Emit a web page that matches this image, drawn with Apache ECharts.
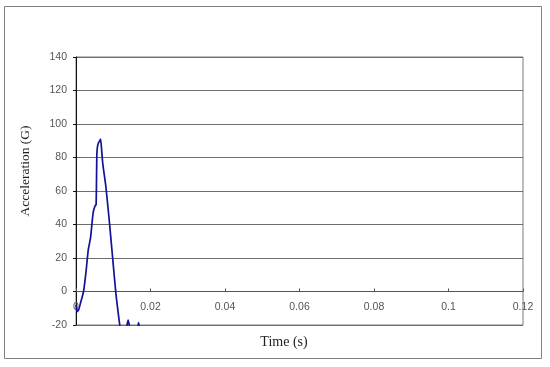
<!DOCTYPE html>
<html>
<head>
<meta charset="utf-8">
<script src="https://cdn.jsdelivr.net/npm/echarts@6/dist/echarts.min.js"></script>
<style>
  html, body { margin: 0; padding: 0; background: #fff; }
  #chart { width: 550px; height: 367px; }
</style>
</head>
<body>
<div id="chart"></div>
<script>
// time (s) and acceleration (G)
const timeS = [0, 0.0003, 0.0007, 0.0012, 0.0017, 0.0021, 0.0027, 0.0033, 0.0039, 0.0046, 0.0051, 0.0054,
  0.0056, 0.0058, 0.0061, 0.0064, 0.0066, 0.0069, 0.0072, 0.0080, 0.0089, 0.0098, 0.0107, 0.0118,
  0.0125, 0.0132, 0.0137, 0.0140, 0.0143, 0.0150, 0.0160, 0.0166, 0.0168, 0.0170, 0.0176];
const accelG = [-8, -12, -11, -7, -3, 1, 12, 25, 32, 47, 51, 52,
  82, 87, 89, 90, 91, 84, 76, 63, 43, 21, -1, -21,
  -32, -28, -20, -17, -20, -28, -26, -21, -18.5, -21, -27];
const xTicks = [0, 0.12, 0.02];
const yTicks = [-20, 140, 20];
const xTitle = 'Time (s)';
const yTitle = 'Acceleration (G)';

const chart = echarts.init(document.getElementById('chart'));
const serif = '"Liberation Serif", "DejaVu Serif", serif';
const sans = '"Liberation Sans", "DejaVu Sans", sans-serif';

chart.setOption({
  animation: false,
  grid: {
    left: 76, top: 57, right: 27, bottom: 42,
    outerBoundsMode: 'none',
    show: true, borderColor: '#7a7a7a', borderWidth: 1
  },
  graphic: [
    {
      type: 'rect',
      shape: { x: 4.5, y: 6.5, width: 537, height: 352 },
      style: { fill: 'none', stroke: '#808080', lineWidth: 1 }
    },
    {
      type: 'text', x: 284, y: 342,
      style: { text: xTitle, font: '14px ' + serif, fill: '#222', align: 'center', verticalAlign: 'middle' }
    },
    {
      type: 'text', x: 25, y: 171, rotation: Math.PI / 2,
      style: { text: yTitle, font: '13.5px ' + serif, fill: '#222', align: 'center', verticalAlign: 'middle' }
    }
  ],
  xAxis: {
    type: 'value',
    min: xTicks[0], max: xTicks[1], interval: xTicks[2],
    axisLine: { onZero: true, lineStyle: { color: '#555', width: 1 } },
    axisTick: { show: true, inside: true, length: 3, lineStyle: { color: '#555' } },
    axisLabel: { fontFamily: sans, fontSize: 10.5, color: '#555', margin: -23,
      formatter: v => String(+v.toFixed(2)) },
    splitLine: { show: false }
  },
  yAxis: {
    type: 'value',
    min: yTicks[0], max: yTicks[1], interval: yTicks[2],
    axisLine: { show: true, lineStyle: { color: '#111', width: 1 } },
    axisTick: { show: true, inside: false, length: 3, lineStyle: { color: '#111' } },
    axisLabel: { fontFamily: sans, fontSize: 10.5, color: '#555', margin: 9 },
    splitLine: { show: true, lineStyle: { color: '#6e6e6e', width: 1 } }
  },
  series: [{
    type: 'line',
    data: timeS.map((t, i) => [t, accelG[i]]),
    showSymbol: false,
    smooth: 0.2,
    clip: true,
    lineStyle: { color: '#11119a', width: 1.7 }
  }]
});
</script>
</body>
</html>
